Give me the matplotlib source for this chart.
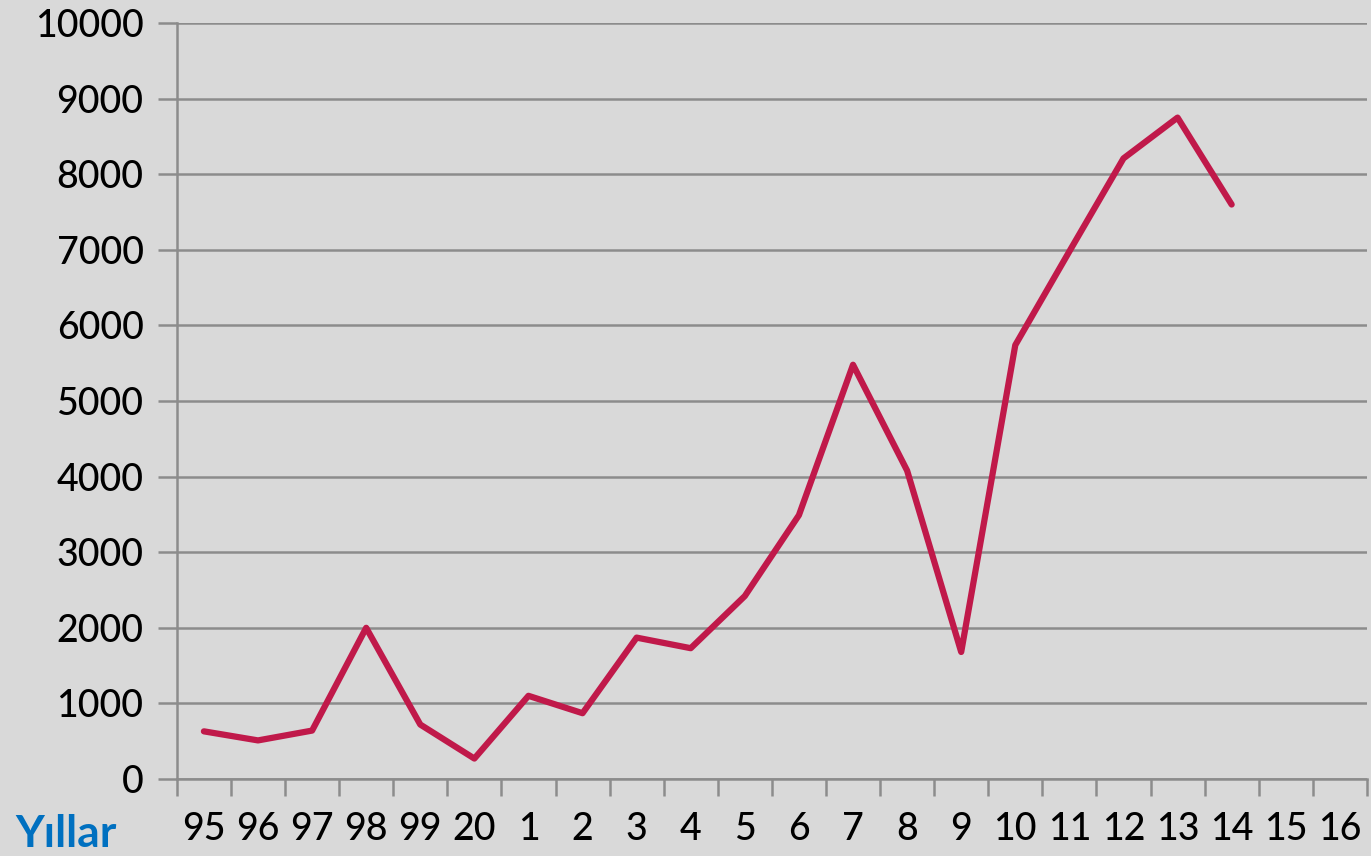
import matplotlib
matplotlib.use("Agg")
import matplotlib.pyplot as plt

# Data
years = ["95", "96", "97", "98", "99", "20", "1", "2", "3", "4", "5",
         "6", "7", "8", "9", "10", "11", "12", "13", "14", "15", "16"]
values = [630, 510, 640, 2000, 720, 270, 1100, 870, 1870, 1730, 2420,
          3490, 5480, 4080, 1680, 5740, 6980, 8210, 8750, 7600]
y_ticks = list(range(0, 10001, 1000))

bg = "#d9d9d9"
grid_col = "#8c8c8c"
line_col = "#c0194a"

plt.rcParams['font.family'] = ['Lato', 'DejaVu Sans']

fig = plt.figure(figsize=(13.71, 8.56), dpi=100, facecolor=bg)
ax = fig.add_axes([0.129, 0.09, 0.868, 0.883], facecolor=bg)

x = list(range(len(values)))
ax.plot(x, values, color=line_col, lw=4.5, solid_joinstyle="round",
        solid_capstyle="round", zorder=3)

ax.set_xlim(-0.5, len(years) - 0.5)
ax.set_ylim(0, 10000)

ax.set_yticks(y_ticks)
ax.set_yticklabels([str(v) for v in y_ticks], fontsize=27, fontweight="medium")
ax.yaxis.grid(True, color=grid_col, lw=1.8)
ax.set_axisbelow(True)

# category labels at centres, tick marks at boundaries
ax.set_xticks(range(len(years)))
ax.set_xticklabels(years, fontsize=27, fontweight="medium")
ax.set_xticks([i - 0.5 for i in range(len(years) + 1)], minor=True)
ax.tick_params(axis="x", which="major", length=0, pad=24)
ax.tick_params(axis="x", which="minor", length=12, width=1.8, color=grid_col)
ax.tick_params(axis="y", length=14, width=1.8, color=grid_col, pad=10)

for side in ["top", "right"]:
    ax.spines[side].set_visible(False)
ax.spines["left"].set_color(grid_col)
ax.spines["left"].set_linewidth(1.8)
ax.spines["bottom"].set_color(grid_col)
ax.spines["bottom"].set_linewidth(1.8)

fig.text(0.011, 0.002, "Yıllar", color="#0070c0", fontsize=32,
         fontweight="bold", ha="left", va="bottom")

fig.savefig("out.png", dpi=100, facecolor=bg)
